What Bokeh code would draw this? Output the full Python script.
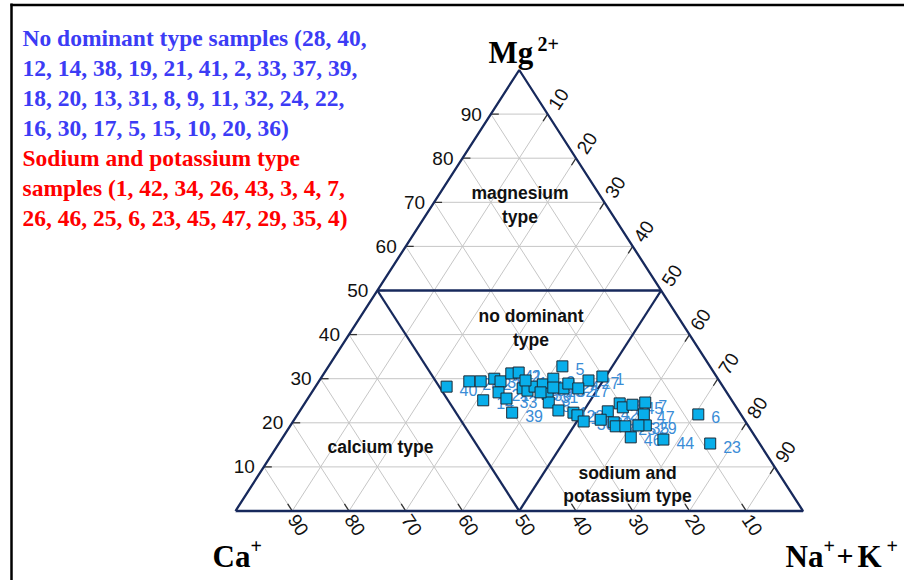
import math
from bokeh.plotting import figure
from bokeh.models import Range1d
from bokeh.core.properties import value
from bokeh.embed import file_html
from bokeh.resources import INLINE

# ---------------- data ----------------
sample_ids = [40, 28, 12, 14, 38, 19, 21, 41, 2, 33, 39, 37, 18, 20, 13, 31,
              8, 9, 5, 11, 32, 24, 22, 16, 30, 27, 1, 17, 15, 10, 36, 42,
              34, 26, 43, 3, 7, 47, 29, 4, 25, 46, 44, 6, 23, 45, 35]
mg_pct = [28.2, 29.4, 29.4, 25.1, 30.0, 29.4, 26.9, 31.2, 31.4, 25.5, 22.3, 27.8,
          27.3, 28.2, 28.7, 26.6, 24.6, 30.0, 32.8, 22.8, 27.8, 28.9, 22.3, 21.7,
          20.3, 29.6, 30.5, 27.8, 28.0, 29.6, 26.9, 22.6, 20.1, 20.7, 24.4, 23.5,
          24.6, 21.9, 19.4, 19.2, 19.2, 16.7, 16.2, 21.9, 15.3, 24.1, 19.4]
nak_pct = [23.1, 26.5, 28.5, 31.1, 30.6, 32.0, 32.9, 33.0, 34.2, 35.0, 37.6, 36.7,
           37.8, 38.6, 39.8, 41.7, 42.9, 41.0, 41.2, 45.5, 43.9, 44.2, 48.4, 49.4,
           51.2, 47.4, 49.4, 46.5, 42.0, 36.3, 40.3, 54.3, 56.6, 54.0, 55.5, 56.5,
           59.9, 61.0, 62.6, 57.4, 59.1, 61.3, 67.3, 70.6, 76.0, 57.9, 61.3]
grid_levels = [10, 20, 30, 40, 50, 60, 70, 80, 90]

note_blue = ["No dominant type samples (28, 40,",
             "12, 14, 38, 19, 21, 41, 2, 33, 37, 39,",
             "18, 20, 13, 31, 8, 9, 11, 32, 24, 22,",
             "16, 30, 17, 5, 15, 10, 20, 36)"]
note_red = ["Sodium and potassium type",
            "samples (1, 42, 34, 26, 43, 3, 4, 7,",
            "26, 46, 25, 6, 23, 45, 47, 29, 35, 4)"]

# ---------------- layout ----------------
W, H = 904, 580
OX, OY = 235.0, 510.5     # pixel of the Ca corner
SX, SY = 5.675, 4.41      # pixels per ternary unit


def px2x(px):
    return (px - OX) / SX


def py2y(py):
    return (OY - py) / SY


p = figure(width=W, height=H,
           x_range=Range1d(px2x(0), px2x(W)),
           y_range=Range1d(py2y(H), py2y(0)),
           output_backend="svg", toolbar_location=None, min_border=0,
           x_axis_location=None, y_axis_location=None,
           background_fill_color="white", border_fill_color="white")
p.outline_line_color = None
p.xgrid.grid_line_color = None
p.ygrid.grid_line_color = None

SANS = value("Liberation Sans")
SERIF = value("Liberation Serif")
NAVY = "#17295c"

# grid lines (three families)
gx, gy = [], []
for k in grid_levels:
    gx.append([k / 2, 100 - k / 2]); gy.append([k, k])              # Mg = k
    gx.append([k, k + (100 - k) / 2]); gy.append([0, 100 - k])      # Na+K = k
    gx.append([100 - k, (100 - k) / 2]); gy.append([0, 100 - k])    # Ca = k
p.multi_line(gx, gy, line_color="#c6c6c6", line_width=1)

# tick marks
tx, ty = [], []
for k in grid_levels:
    tx.append([k / 2, k / 2 + 1.4]); ty.append([k, k])
    xr = k + (100 - k) / 2
    tx.append([xr, xr - 0.8]); ty.append([100 - k, 100 - k - 1.6])
    tx.append([100 - k, 100 - k - 0.8]); ty.append([0, 1.6])
p.multi_line(tx, ty, line_color="#333333", line_width=1.3)

# triangle and region boundaries
p.line([0, 100, 50, 0], [0, 0, 100, 0], line_color=NAVY, line_width=2.3)
p.multi_line([[25, 75], [50, 25], [50, 75]], [[50, 50], [0, 50], [0, 50]],
             line_color=NAVY, line_width=2.3)

# tick labels
p.text(x=[k / 2 for k in grid_levels], y=grid_levels,
       text=[str(k) for k in grid_levels], x_offset=-9,
       text_align="right", text_baseline="middle",
       text_font=SANS, text_font_size="19px", text_color="#111111")
p.text(x=[k + (100 - k) / 2 for k in grid_levels], y=[100 - k for k in grid_levels],
       text=[str(k) for k in grid_levels], x_offset=11, y_offset=-15,
       angle=math.radians(57), text_align="center", text_baseline="middle",
       text_font=SANS, text_font_size="19px", text_color="#111111")
p.text(x=[100 - k for k in grid_levels], y=[0] * len(grid_levels),
       text=[str(k) for k in grid_levels], x_offset=6, y_offset=14,
       angle=math.radians(-57), text_align="center", text_baseline="middle",
       text_font=SANS, text_font_size="19px", text_color="#111111")

# region names
reg_txt = ["magnesium", "type", "no dominant", "type", "calcium type",
           "sodium and", "potassium type"]
reg_px = [519.5, 519.5, 530.5, 530.5, 380, 627, 627]
reg_py = [192, 216, 315, 339, 446, 472, 495]
p.text(x=[px2x(v) for v in reg_px], y=[py2y(v) for v in reg_py], text=reg_txt,
       text_align="center", text_baseline="middle", text_font=SANS,
       text_font_size="17.5px", text_font_style="bold", text_color="#111111")

# sample points
xs = [n + m / 2 for m, n in zip(mg_pct, nak_pct)]
ys = list(mg_pct)
p.text(x=xs, y=ys, text=[str(s) for s in sample_ids], x_offset=13, y_offset=3,
       text_align="left", text_baseline="middle", text_font=SANS,
       text_font_size="16px", text_color="#3a8cd6")
p.scatter(xs, ys, marker="square", size=11, fill_color="#08aeea",
          line_color="#1d2a36", line_width=1)

# corner labels
p.text(x=[px2x(488), px2x(212), px2x(785), px2x(857)],
       y=[py2y(52), py2y(556), py2y(556), py2y(556)],
       text=["Mg", "Ca", "Na", "K"], text_align="left",
       text_baseline="alphabetic", text_font=SERIF, text_font_size="31px",
       text_font_style="bold", text_color="#000000")
p.text(x=[px2x(836)], y=[py2y(556)], text=["+"], text_align="left",
       text_baseline="alphabetic", text_font=SERIF, text_font_size="30px",
       text_font_style="bold", text_color="#000000")
p.text(x=[px2x(537), px2x(250), px2x(823), px2x(886)],
       y=[py2y(43), py2y(545), py2y(545), py2y(545)],
       text=["2+", "+", "+", "+"], text_align="left",
       text_baseline="alphabetic", text_font=SERIF, text_font_size="20px",
       text_font_style="bold", text_color="#000000")

# notes at top left
base = [37.3 + 30 * i for i in range(len(note_blue) + len(note_red))]
p.text(x=[px2x(22)] * len(note_blue), y=[py2y(b) for b in base[:4]], text=note_blue,
       text_align="left", text_baseline="alphabetic", text_font=SERIF,
       text_font_size="23.5px", text_font_style="bold", text_color="#3c3cf5")
p.text(x=[px2x(22)] * len(note_red), y=[py2y(b) for b in base[4:]], text=note_red,
       text_align="left", text_baseline="alphabetic", text_font=SERIF,
       text_font_size="23.5px", text_font_style="bold", text_color="#ff0000")

# frame lines of the original picture
p.line([px2x(11), px2x(11)], [py2y(3), py2y(580)], line_color="black", line_width=2.5)
p.line([px2x(10), px2x(904)], [py2y(4.5), py2y(4.5)], line_color="black", line_width=2.5)

open("out.html", "w").write(file_html(p, INLINE))
